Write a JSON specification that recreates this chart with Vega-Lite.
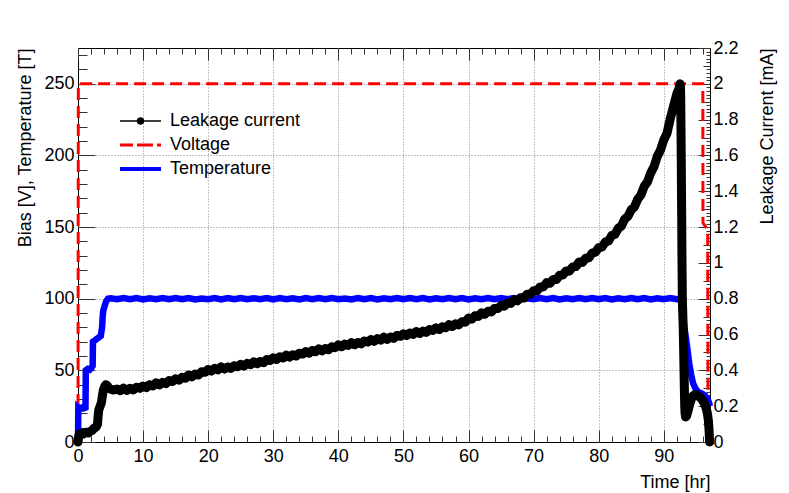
{
  "$schema": "https://vega.github.io/schema/vega-lite/v6.json",
  "width": 632,
  "height": 394,
  "autosize": {"type": "none"},
  "padding": {"left": 78, "top": 48, "right": 79, "bottom": 51},
  "background": "white",
  "config": {
    "font": "Liberation Sans",
    "view": {"stroke": "black", "strokeWidth": 1},
    "axis": {
      "labelFont": "Liberation Sans", "labelFontSize": 18, "labelColor": "black",
      "titleFont": "Liberation Sans", "titleFontSize": 18, "titleFontWeight": "normal", "titleColor": "black",
      "domain": false, "tickColor": "#333", "tickWidth": 1,
      "gridColor": "#888", "gridDash": [1, 2], "gridWidth": 1,
      "labelOverlap": false, "labelFlush": false, "labelBound": false
    }
  },
  "datasets": {
    "voltage": [
      {"t": 0, "v": 0}, {"t": 0.05, "v": 250}, {"t": 96.0, "v": 250}, {"t": 96.02, "v": 153}, {"t": 96.75, "v": 148}, {"t": 96.8, "v": 0}
    ],
    "temperature": [
      {"t": 0, "T": 0}, {"t": 0.05, "T": 24}, {"t": 0.3, "T": 23}, {"t": 0.6, "T": 24}, {"t": 0.9, "T": 23.5}, {"t": 1.15, "T": 24},
      {"t": 1.2, "T": 50}, {"t": 1.5, "T": 51}, {"t": 1.8, "T": 50.5}, {"t": 2.1, "T": 52}, {"t": 2.25, "T": 53},
      {"t": 2.3, "T": 70}, {"t": 2.6, "T": 71}, {"t": 2.9, "T": 72}, {"t": 3.2, "T": 73}, {"t": 3.5, "T": 74},
      {"t": 3.7, "T": 80}, {"t": 3.8, "T": 88}, {"t": 3.9, "T": 92}, {"t": 4.1, "T": 95}, {"t": 4.3, "T": 98}, {"t": 4.6, "T": 100},
      {"t": 5, "T": 100.3}, {"t": 6, "T": 99.6}, {"t": 7, "T": 100.5}, {"t": 8, "T": 99.7}, {"t": 9, "T": 100.4}, {"t": 10, "T": 99.5},
      {"t": 11, "T": 100.3}, {"t": 12, "T": 99.7}, {"t": 13, "T": 100.5}, {"t": 14, "T": 99.6}, {"t": 15, "T": 100.4}, {"t": 16, "T": 99.6},
      {"t": 17, "T": 100.5}, {"t": 18, "T": 99.5}, {"t": 19, "T": 100.2}, {"t": 20, "T": 99.7}, {"t": 21, "T": 100.4}, {"t": 22, "T": 99.5},
      {"t": 23, "T": 100.4}, {"t": 24, "T": 99.7}, {"t": 25, "T": 100.5}, {"t": 26, "T": 99.6}, {"t": 27, "T": 100.3}, {"t": 28, "T": 99.7},
      {"t": 29, "T": 100.5}, {"t": 30, "T": 99.5}, {"t": 31, "T": 100.4}, {"t": 32, "T": 99.6}, {"t": 33, "T": 100.3}, {"t": 34, "T": 99.5},
      {"t": 35, "T": 100.4}, {"t": 36, "T": 99.7}, {"t": 37, "T": 100.4}, {"t": 38, "T": 99.6}, {"t": 39, "T": 100.5}, {"t": 40, "T": 99.7},
      {"t": 41, "T": 100.2}, {"t": 42, "T": 99.5}, {"t": 43, "T": 100.5}, {"t": 44, "T": 99.6}, {"t": 45, "T": 100.4}, {"t": 46, "T": 99.5},
      {"t": 47, "T": 100.3}, {"t": 48, "T": 99.7}, {"t": 49, "T": 100.5}, {"t": 50, "T": 99.6}, {"t": 51, "T": 100.4}, {"t": 52, "T": 99.7},
      {"t": 53, "T": 100.4}, {"t": 54, "T": 99.5}, {"t": 55, "T": 100.3}, {"t": 56, "T": 99.7}, {"t": 57, "T": 100.5}, {"t": 58, "T": 99.6},
      {"t": 59, "T": 100.4}, {"t": 60, "T": 99.5}, {"t": 61, "T": 100.3}, {"t": 62, "T": 99.7}, {"t": 63, "T": 100.5}, {"t": 64, "T": 99.6},
      {"t": 65, "T": 100.4}, {"t": 66, "T": 99.7}, {"t": 67, "T": 100.4}, {"t": 68, "T": 99.5}, {"t": 69, "T": 100.3}, {"t": 70, "T": 99.6},
      {"t": 71, "T": 100.5}, {"t": 72, "T": 99.7}, {"t": 73, "T": 100.4}, {"t": 74, "T": 99.5}, {"t": 75, "T": 100.3}, {"t": 76, "T": 99.7},
      {"t": 77, "T": 100.5}, {"t": 78, "T": 99.6}, {"t": 79, "T": 100.4}, {"t": 80, "T": 99.6}, {"t": 81, "T": 100.4}, {"t": 82, "T": 99.5},
      {"t": 83, "T": 100.3}, {"t": 84, "T": 99.7}, {"t": 85, "T": 100.5}, {"t": 86, "T": 99.6}, {"t": 87, "T": 100.4}, {"t": 88, "T": 99.5},
      {"t": 89, "T": 100.3}, {"t": 90, "T": 99.7}, {"t": 91, "T": 100.5}, {"t": 92, "T": 99.7}, {"t": 92.6, "T": 100},
      {"t": 92.75, "T": 95}, {"t": 93.0, "T": 85}, {"t": 93.3, "T": 76}, {"t": 93.6, "T": 66}, {"t": 93.9, "T": 55}, {"t": 94.2, "T": 47},
      {"t": 94.5, "T": 41}, {"t": 94.9, "T": 37}, {"t": 95.3, "T": 35}, {"t": 95.8, "T": 34}, {"t": 96.3, "T": 32.5}, {"t": 96.7, "T": 30},
      {"t": 97.0, "T": 27}, {"t": 97.05, "T": 25}
    ],
    "current": [
      {"t": 0, "i": 0.0}, {"t": 0.1, "i": 0.03}, {"t": 0.2, "i": 0.045}, {"t": 0.4, "i": 0.04}, {"t": 0.6, "i": 0.05}, {"t": 0.8, "i": 0.045},
      {"t": 1.0, "i": 0.05}, {"t": 1.3, "i": 0.055}, {"t": 1.6, "i": 0.05}, {"t": 1.9, "i": 0.06}, {"t": 2.2, "i": 0.065}, {"t": 2.4, "i": 0.075},
      {"t": 2.6, "i": 0.08}, {"t": 2.8, "i": 0.085}, {"t": 3.0, "i": 0.1}, {"t": 3.1, "i": 0.15}, {"t": 3.2, "i": 0.18}, {"t": 3.4, "i": 0.2},
      {"t": 3.6, "i": 0.22}, {"t": 3.75, "i": 0.26}, {"t": 3.9, "i": 0.29}, {"t": 4.1, "i": 0.31}, {"t": 4.3, "i": 0.32}, {"t": 4.5, "i": 0.315},
      {"t": 4.7, "i": 0.3}, {"t": 5.0, "i": 0.295}, {"t": 5.5, "i": 0.29},
      {"t": 6, "i": 0.296}, {"t": 6.5, "i": 0.287}, {"t": 7, "i": 0.301}, {"t": 7.5, "i": 0.288}, {"t": 8, "i": 0.3}, {"t": 8.5, "i": 0.291},
      {"t": 9, "i": 0.306}, {"t": 9.5, "i": 0.3}, {"t": 10, "i": 0.313}, {"t": 10.5, "i": 0.304}, {"t": 11, "i": 0.32}, {"t": 11.5, "i": 0.313},
      {"t": 12, "i": 0.33}, {"t": 12.5, "i": 0.319}, {"t": 13, "i": 0.333}, {"t": 13.5, "i": 0.326}, {"t": 14, "i": 0.343}, {"t": 14.5, "i": 0.338},
      {"t": 15, "i": 0.353}, {"t": 15.5, "i": 0.345}, {"t": 16, "i": 0.362}, {"t": 16.5, "i": 0.356}, {"t": 17, "i": 0.374}, {"t": 17.5, "i": 0.364},
      {"t": 18, "i": 0.379}, {"t": 18.5, "i": 0.374}, {"t": 19, "i": 0.392}, {"t": 19.5, "i": 0.389}, {"t": 20, "i": 0.405}, {"t": 20.5, "i": 0.396},
      {"t": 21, "i": 0.411}, {"t": 21.5, "i": 0.403}, {"t": 22, "i": 0.419}, {"t": 22.5, "i": 0.407}, {"t": 23, "i": 0.419}, {"t": 23.5, "i": 0.411},
      {"t": 24, "i": 0.426}, {"t": 24.5, "i": 0.42}, {"t": 25, "i": 0.434}, {"t": 25.5, "i": 0.424}, {"t": 26, "i": 0.439}, {"t": 26.5, "i": 0.432},
      {"t": 27, "i": 0.448}, {"t": 27.5, "i": 0.437}, {"t": 28, "i": 0.45}, {"t": 28.5, "i": 0.443}, {"t": 29, "i": 0.46}, {"t": 29.5, "i": 0.455},
      {"t": 30, "i": 0.47}, {"t": 30.5, "i": 0.461}, {"t": 31, "i": 0.476}, {"t": 31.5, "i": 0.469}, {"t": 32, "i": 0.485}, {"t": 32.5, "i": 0.474},
      {"t": 33, "i": 0.487}, {"t": 33.5, "i": 0.48}, {"t": 34, "i": 0.496}, {"t": 34.5, "i": 0.491}, {"t": 35, "i": 0.505}, {"t": 35.5, "i": 0.496},
      {"t": 36, "i": 0.511}, {"t": 36.5, "i": 0.504}, {"t": 37, "i": 0.52}, {"t": 37.5, "i": 0.509}, {"t": 38, "i": 0.522}, {"t": 38.5, "i": 0.515},
      {"t": 39, "i": 0.532}, {"t": 39.5, "i": 0.527}, {"t": 40, "i": 0.542}, {"t": 40.5, "i": 0.532}, {"t": 41, "i": 0.547}, {"t": 41.5, "i": 0.539},
      {"t": 42, "i": 0.555}, {"t": 42.5, "i": 0.543}, {"t": 43, "i": 0.556}, {"t": 43.5, "i": 0.548}, {"t": 44, "i": 0.564}, {"t": 44.5, "i": 0.558},
      {"t": 45, "i": 0.572}, {"t": 45.5, "i": 0.562}, {"t": 46, "i": 0.577}, {"t": 46.5, "i": 0.569}, {"t": 47, "i": 0.585}, {"t": 47.5, "i": 0.573},
      {"t": 48, "i": 0.586}, {"t": 48.5, "i": 0.579}, {"t": 49, "i": 0.595}, {"t": 49.5, "i": 0.59}, {"t": 50, "i": 0.604}, {"t": 50.5, "i": 0.594},
      {"t": 51, "i": 0.609}, {"t": 51.5, "i": 0.601}, {"t": 52, "i": 0.617}, {"t": 52.5, "i": 0.606}, {"t": 53, "i": 0.619}, {"t": 53.5, "i": 0.612},
      {"t": 54, "i": 0.628}, {"t": 54.5, "i": 0.623}, {"t": 55, "i": 0.637}, {"t": 55.5, "i": 0.628}, {"t": 56, "i": 0.644}, {"t": 56.5, "i": 0.638},
      {"t": 57, "i": 0.655}, {"t": 57.5, "i": 0.645}, {"t": 58, "i": 0.66}, {"t": 58.5, "i": 0.654}, {"t": 59, "i": 0.672}, {"t": 59.5, "i": 0.669},
      {"t": 60, "i": 0.692}, {"t": 60.5, "i": 0.686}, {"t": 61, "i": 0.705}, {"t": 61.5, "i": 0.701}, {"t": 62, "i": 0.721}, {"t": 62.5, "i": 0.713},
      {"t": 63, "i": 0.73}, {"t": 63.5, "i": 0.726}, {"t": 64, "i": 0.746}, {"t": 64.5, "i": 0.745}, {"t": 65, "i": 0.763}, {"t": 65.5, "i": 0.758},
      {"t": 66, "i": 0.777}, {"t": 66.5, "i": 0.774}, {"t": 67, "i": 0.795}, {"t": 67.5, "i": 0.788}, {"t": 68, "i": 0.806}, {"t": 68.5, "i": 0.804},
      {"t": 69, "i": 0.825}, {"t": 69.5, "i": 0.825}, {"t": 70, "i": 0.845}, {"t": 70.5, "i": 0.843}, {"t": 71, "i": 0.866}, {"t": 71.5, "i": 0.866},
      {"t": 72, "i": 0.89}, {"t": 72.5, "i": 0.886}, {"t": 73, "i": 0.907}, {"t": 73.5, "i": 0.907}, {"t": 74, "i": 0.931}, {"t": 74.5, "i": 0.933},
      {"t": 75, "i": 0.955}, {"t": 75.5, "i": 0.954}, {"t": 76, "i": 0.978}, {"t": 76.5, "i": 0.98}, {"t": 77, "i": 1.005}, {"t": 77.5, "i": 1.003},
      {"t": 78, "i": 1.026}, {"t": 78.5, "i": 1.029}, {"t": 79, "i": 1.055}, {"t": 79.5, "i": 1.06}, {"t": 80, "i": 1.085}, {"t": 80.5, "i": 1.088},
      {"t": 81, "i": 1.116}, {"t": 81.5, "i": 1.122}, {"t": 82, "i": 1.153}, {"t": 82.5, "i": 1.16}, {"t": 83, "i": 1.193}, {"t": 83.5, "i": 1.207},
      {"t": 84, "i": 1.245}, {"t": 84.5, "i": 1.261}, {"t": 85, "i": 1.297}, {"t": 85.5, "i": 1.314}, {"t": 86, "i": 1.356}, {"t": 86.5, "i": 1.38},
      {"t": 87, "i": 1.428}, {"t": 87.5, "i": 1.453}, {"t": 88, "i": 1.503}, {"t": 88.5, "i": 1.537}, {"t": 89, "i": 1.595}, {"t": 89.5, "i": 1.631},
      {"t": 90, "i": 1.687}, {"t": 90.5, "i": 1.724}, {"t": 91, "i": 1.806}, {"t": 91.5, "i": 1.875}, {"t": 92, "i": 1.944}, {"t": 92.3, "i": 1.97},
      {"t": 92.5, "i": 2.0},
      {"t": 92.55, "i": 1.99}, {"t": 92.58, "i": 1.96}, {"t": 92.6, "i": 1.92}, {"t": 92.61, "i": 1.88}, {"t": 92.62, "i": 1.84}, {"t": 92.63, "i": 1.8},
      {"t": 92.64, "i": 1.76}, {"t": 92.65, "i": 1.72}, {"t": 92.66, "i": 1.68}, {"t": 92.67, "i": 1.64}, {"t": 92.68, "i": 1.6}, {"t": 92.69, "i": 1.56},
      {"t": 92.71, "i": 1.44}, {"t": 92.73, "i": 1.35}, {"t": 92.74, "i": 1.31}, {"t": 92.75, "i": 1.27}, {"t": 92.76, "i": 1.23}, {"t": 92.78, "i": 1.08},
      {"t": 92.79, "i": 1.04}, {"t": 92.8, "i": 1.0}, {"t": 92.81, "i": 0.96}, {"t": 92.82, "i": 0.92}, {"t": 92.83, "i": 0.88}, {"t": 92.84, "i": 0.84},
      {"t": 92.85, "i": 0.8}, {"t": 92.9, "i": 0.74}, {"t": 92.95, "i": 0.68}, {"t": 93.0, "i": 0.62}, {"t": 93.03, "i": 0.56}, {"t": 93.06, "i": 0.5},
      {"t": 93.09, "i": 0.44}, {"t": 93.12, "i": 0.38}, {"t": 93.15, "i": 0.32}, {"t": 93.18, "i": 0.26}, {"t": 93.22, "i": 0.2}, {"t": 93.27, "i": 0.16},
      {"t": 93.35, "i": 0.14}, {"t": 93.5, "i": 0.145}, {"t": 93.7, "i": 0.17}, {"t": 93.9, "i": 0.2}, {"t": 94.1, "i": 0.225}, {"t": 94.3, "i": 0.245},
      {"t": 94.5, "i": 0.258}, {"t": 94.8, "i": 0.265}, {"t": 95.1, "i": 0.262}, {"t": 95.4, "i": 0.255}, {"t": 95.7, "i": 0.245}, {"t": 96.0, "i": 0.23},
      {"t": 96.3, "i": 0.21}, {"t": 96.5, "i": 0.19}, {"t": 96.7, "i": 0.16}, {"t": 96.85, "i": 0.12}, {"t": 96.95, "i": 0.07}, {"t": 97.0, "i": 0.03},
      {"t": 97.05, "i": 0.0}
    ]
  },
  "layer": [
    {
      "data": {"name": "voltage"},
      "mark": {"type": "line", "strokeWidth": 3, "strokeDash": [12, 6]},
      "encoding": {
        "x": {
          "field": "t", "type": "quantitative",
          "scale": {"domain": [0, 97.1], "nice": false, "zero": false},
          "axis": {
            "orient": "bottom",
            "values": [0,2,4,6,8,10,12,14,16,18,20,22,24,26,28,30,32,34,36,38,40,42,44,46,48,50,52,54,56,58,60,62,64,66,68,70,72,74,76,78,80,82,84,86,88,90,92,94,96],
            "labelExpr": "datum.value % 10 === 0 ? '' + datum.value : ''",
            "tickSize": {"condition": {"test": "datum.value % 10 === 0", "value": -12}, "value": -6},
            "labelPadding": 17,
            "grid": true,
            "gridOpacity": {"condition": {"test": "datum.value % 10 === 0 && datum.value > 0", "value": 1}, "value": 0},
            "title": "Time [hr]",
            "titleX": 632, "titleY": 45, "titleAlign": "right", "titleBaseline": "alphabetic"
          }
        },
        "y": {
          "field": "v", "type": "quantitative",
          "scale": {"domain": [0, 275], "nice": false, "zero": false},
          "axis": {
            "orient": "left",
            "values": [0,10,20,30,40,50,60,70,80,90,100,110,120,130,140,150,160,170,180,190,200,210,220,230,240,250,260,270],
            "labelExpr": "datum.value % 50 === 0 ? '' + datum.value : ''",
            "tickSize": {"condition": {"test": "datum.value % 50 === 0", "value": -17}, "value": -9},
            "labelPadding": 21,
            "grid": true,
            "gridOpacity": {"condition": {"test": "datum.value % 50 === 0 && datum.value > 0", "value": 1}, "value": 0},
            "title": "Bias [V], Temperature [T]",
            "titleX": -48, "titleY": 0, "titleAngle": 270, "titleAlign": "right", "titleBaseline": "alphabetic"
          }
        },
        "color": {
          "datum": "Voltage",
          "scale": {"domain": ["Leakage current", "Voltage", "Temperature"], "range": ["black", "red", "blue"]},
          "legend": {
            "title": null,
            "orient": "none",
            "legendX": 42,
            "legendY": 63,
            "padding": 0,
            "rowPadding": 5,
            "labelFont": "Liberation Sans",
            "labelFontSize": 18,
            "labelColor": "black",
            "labelOffset": 30,
            "symbolSize": 400,
            "symbolStrokeWidth": 0,
            "symbolOpacity": 1,
            "encode": {
              "symbols": {
                "update": {
                  "shape": {"signal": "datum.value === 'Leakage current' ? 'M-1,-0.07H3.1V0.07H-1Z M1.43,0A0.38,0.38,0,1,1,0.67,0A0.38,0.38,0,1,1,1.43,0Z' : datum.value === 'Voltage' ? 'M-1,-0.15H0.3V0.15H-1Z M0.7,-0.15H2.3V0.15H0.7Z M2.7,-0.15H3.1V0.15H2.7Z' : 'M-1,-0.2H3.1V0.2H-1Z'"},
                  "size": {"value": 400},
                  "fill": {"signal": "datum.value === 'Voltage' ? 'red' : datum.value === 'Temperature' ? 'blue' : 'black'"},
                  "stroke": {"value": "transparent"},
                  "strokeWidth": {"value": 0},
                  "opacity": {"value": 1}
                }
              }
            }
          }
        }
      }
    },
    {
      "data": {"name": "temperature"},
      "mark": {"type": "line", "strokeWidth": 6.5},
      "encoding": {
        "x": {
          "field": "t", "type": "quantitative",
          "scale": {"domain": [0, 97.1], "nice": false, "zero": false},
          "axis": {
            "orient": "top",
            "values": [0,2,4,6,8,10,12,14,16,18,20,22,24,26,28,30,32,34,36,38,40,42,44,46,48,50,52,54,56,58,60,62,64,66,68,70,72,74,76,78,80,82,84,86,88,90,92,94,96],
            "labels": false, "grid": false, "title": null,
            "tickSize": {"condition": {"test": "datum.value % 10 === 0", "value": -12}, "value": -6}
          }
        },
        "y": {
          "field": "T", "type": "quantitative",
          "scale": {"domain": [0, 275], "nice": false, "zero": false},
          "axis": null
        },
        "color": {"datum": "Temperature"}
      }
    },
    {
      "data": {"name": "current"},
      "mark": {"type": "line", "strokeWidth": 9, "strokeJoin": "round", "strokeCap": "round", "point": {"filled": true, "size": 60, "opacity": 1}},
      "encoding": {
        "x": {
          "field": "t", "type": "quantitative",
          "scale": {"domain": [0, 97.1], "nice": false, "zero": false},
          "axis": null
        },
        "y": {
          "field": "i", "type": "quantitative",
          "scale": {"domain": [0, 2.2], "nice": false, "zero": false},
          "axis": {
            "orient": "right",
            "values": [0,0.02,0.04,0.06,0.08,0.1,0.12,0.14,0.16,0.18,0.2,0.22,0.24,0.26,0.28,0.3,0.32,0.34,0.36,0.38,0.4,0.42,0.44,0.46,0.48,0.5,0.52,0.54,0.56,0.58,0.6,0.62,0.64,0.66,0.68,0.7,0.72,0.74,0.76,0.78,0.8,0.82,0.84,0.86,0.88,0.9,0.92,0.94,0.96,0.98,1,1.02,1.04,1.06,1.08,1.1,1.12,1.14,1.16,1.18,1.2,1.22,1.24,1.26,1.28,1.3,1.32,1.34,1.36,1.38,1.4,1.42,1.44,1.46,1.48,1.5,1.52,1.54,1.56,1.58,1.6,1.62,1.64,1.66,1.68,1.7,1.72,1.74,1.76,1.78,1.8,1.82,1.84,1.86,1.88,1.9,1.92,1.94,1.96,1.98,2,2.02,2.04,2.06,2.08,2.1,2.12,2.14,2.16,2.18,2.2],
            "labelExpr": "abs(datum.value * 5 - round(datum.value * 5)) < 0.0001 ? '' + datum.value : ''",
            "tickSize": {"condition": [{"test": "abs(datum.value * 5 - round(datum.value * 5)) < 0.0001", "value": -12}, {"test": "abs(datum.value * 10 - round(datum.value * 10)) < 0.0001", "value": -7}], "value": -4},
            "labelPadding": 15,
            "grid": false,
            "title": "Leakage Current [mA]",
            "titleX": 62, "titleY": 0, "titleAngle": 270, "titleAlign": "right", "titleBaseline": "alphabetic"
          }
        },
        "color": {"datum": "Leakage current"}
      }
    }
  ],
  "resolve": {"scale": {"y": "independent"}, "axis": {"x": "independent", "y": "independent"}}
}
